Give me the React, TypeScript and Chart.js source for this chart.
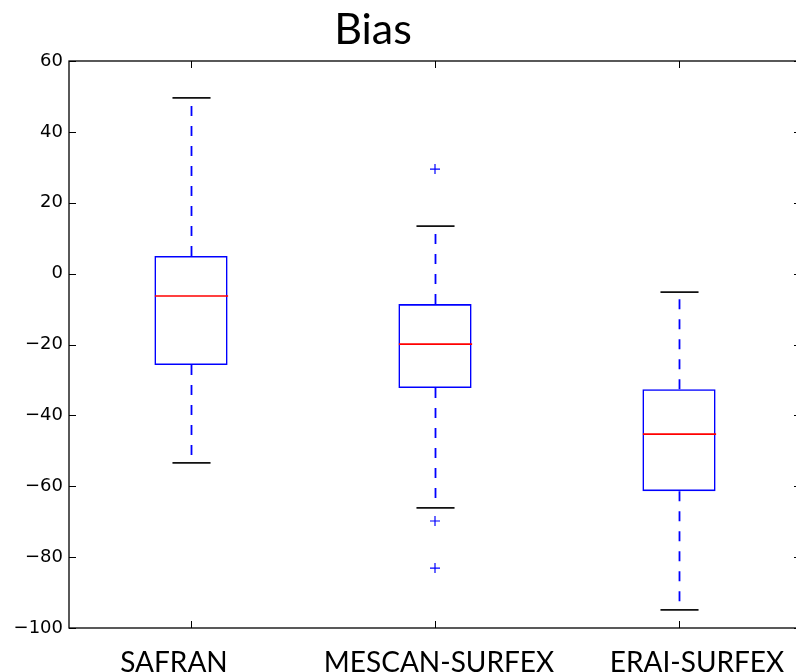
import React, { useEffect, useRef } from 'react';
import { Chart, registerables } from 'chart.js';

Chart.register(...registerables);

const categories = ['SAFRAN', 'MESCAN-SURFEX', 'ERAI-SURFEX'];
const whiskerLow = [-53.4, -66.1, -94.9];
const q1 = [-25.8, -32.3, -61.4];
const median = [-6.3, -19.9, -45.3];
const q3 = [5.0, -8.6, -32.6];
const whiskerHigh = [49.6, 13.4, -5.2];
const outliers: number[][] = [[], [29.5, -69.8, -83.1], []];
const yTicks = [-100, -80, -60, -40, -20, 0, 20, 40, 60];
const chartTitle = 'Bias';

const fmt = (v: number) => (v < 0 ? '\u2212' + Math.abs(v) : String(v));

const boxPlugin = {
  id: 'boxExtras',
  afterDatasetsDraw(chart: any) {
    const { ctx } = chart;
    const x = chart.scales.x;
    const y = chart.scales.y;
    const step = x.getPixelForValue(1) - x.getPixelForValue(0);
    const capHalf = step * 0.078;
    const boxHalf = step * 0.15;
    ctx.save();
    categories.forEach((_, i) => {
      const cx = Math.round(x.getPixelForValue(i)) + 0.5;
      ctx.strokeStyle = '#0000ff';
      ctx.lineWidth = 1.8;
      ctx.setLineDash([10, 10]);
      ctx.beginPath();
      ctx.moveTo(cx, y.getPixelForValue(q3[i]));
      ctx.lineTo(cx, y.getPixelForValue(whiskerHigh[i]));
      ctx.moveTo(cx, y.getPixelForValue(q1[i]));
      ctx.lineTo(cx, y.getPixelForValue(whiskerLow[i]));
      ctx.stroke();
      ctx.setLineDash([]);
      ctx.strokeStyle = '#111111';
      ctx.lineWidth = 1.8;
      ctx.beginPath();
      [whiskerHigh[i], whiskerLow[i]].forEach((v) => {
        const py = y.getPixelForValue(v);
        ctx.moveTo(cx - capHalf, py);
        ctx.lineTo(cx + capHalf, py);
      });
      ctx.stroke();
      ctx.strokeStyle = '#ff0000';
      ctx.lineWidth = 1.6;
      ctx.beginPath();
      const my = y.getPixelForValue(median[i]);
      ctx.moveTo(cx - boxHalf, my);
      ctx.lineTo(cx + boxHalf, my);
      ctx.stroke();
    });
    ctx.restore();
  },
  afterDraw(chart: any) {
    const { ctx, chartArea } = chart;
    const x = chart.scales.x;
    const y = chart.scales.y;
    const { left, right, top, bottom } = chartArea;
    ctx.save();
    ctx.strokeStyle = '#000000';
    ctx.lineWidth = 1.3;
    ctx.strokeRect(left, top, right - left, bottom - top);
    ctx.lineWidth = 1;
    ctx.beginPath();
    yTicks.forEach((v) => {
      const py = Math.round(y.getPixelForValue(v)) + 0.5;
      ctx.moveTo(left, py);
      ctx.lineTo(left + 7, py);
      ctx.moveTo(right, py);
      ctx.lineTo(right - 7, py);
    });
    categories.forEach((_, i) => {
      const px = Math.round(x.getPixelForValue(i)) + 0.5;
      ctx.moveTo(px, bottom);
      ctx.lineTo(px, bottom - 7);
      ctx.moveTo(px, top);
      ctx.lineTo(px, top + 7);
    });
    ctx.stroke();
    ctx.fillStyle = '#000000';
    ctx.textAlign = 'center';
    ctx.textBaseline = 'alphabetic';
    ctx.font = '43px Lato';
    ctx.fillText(chartTitle, 373, 44);
    const shifts = [-17, 4, 18];
    ctx.font = '28px Lato';
    categories.forEach((c, i) => {
      ctx.fillText(c, x.getPixelForValue(i) + shifts[i], 672);
    });
    ctx.restore();
  },
};

export default function App() {
  const ref = useRef<HTMLCanvasElement | null>(null);
  useEffect(() => {
    if (!ref.current) return;
    const chart = new Chart(ref.current, {
      type: 'bar',
      data: {
        labels: categories,
        datasets: [
          {
            type: 'bar',
            data: q1.map((v, i) => [v, q3[i]]) as any,
            backgroundColor: 'rgba(0,0,0,0)',
            borderColor: '#0000ff',
            borderWidth: 1.6,
            borderSkipped: false,
            barPercentage: 0.3,
            categoryPercentage: 1,
          },
          {
            type: 'line',
            data: outliers.flatMap((arr, i) => arr.map((v) => ({ x: categories[i], y: v }))) as any,
            showLine: false,
            pointStyle: 'cross',
            pointRadius: 5,
            pointBorderColor: '#0000ff',
            pointBackgroundColor: '#0000ff',
            pointBorderWidth: 1.2,
          } as any,
        ],
      },
      options: {
        animation: false,
        responsive: true,
        maintainAspectRatio: false,
        events: [],
        layout: { padding: { top: 61, right: 15, left: 0, bottom: 0 } },
        plugins: { legend: { display: false }, tooltip: { enabled: false }, title: { display: false } },
        scales: {
          x: {
            type: 'category',
            offset: true,
            grid: { display: false, drawTicks: false },
            border: { display: false },
            ticks: { display: false },
            afterFit: (s: any) => { s.height = 44; },
          },
          y: {
            min: -100,
            max: 60,
            grid: { display: false, drawTicks: false },
            border: { display: false },
            afterBuildTicks: (s: any) => { s.ticks = yTicks.map((v) => ({ value: v })); },
            ticks: {
              padding: 6,
              color: '#000000',
              font: { family: 'DejaVu Sans', size: 18 },
              callback: (v: any) => fmt(Number(v)),
            },
            afterFit: (s: any) => { s.width = 69; },
          },
        },
      },
      plugins: [boxPlugin],
    });
    return () => chart.destroy();
  }, []);
  return (
    <div style={{ position: 'fixed', left: 0, top: 0, width: 796, height: 672, overflow: 'hidden', background: '#fff' }}>
      <div style={{ position: 'relative', width: 816, height: 672 }}>
        <canvas ref={ref} />
      </div>
    </div>
  );
}
